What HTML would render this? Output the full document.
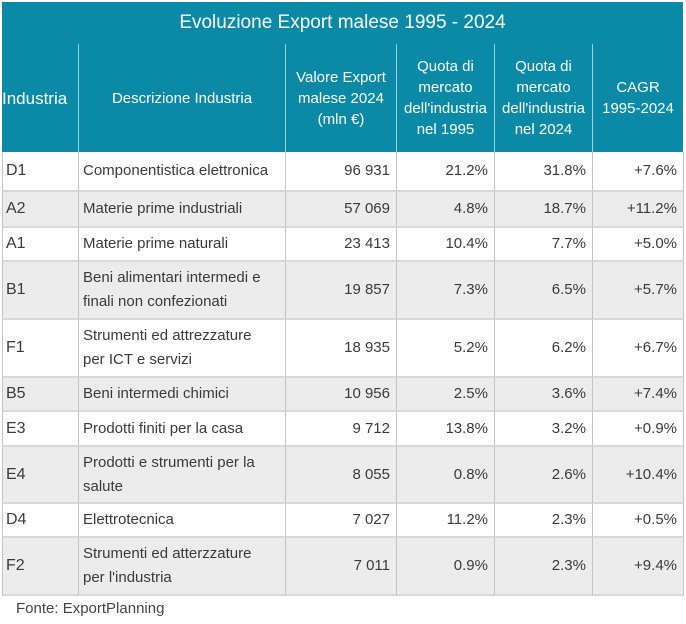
<!DOCTYPE html><html><head><style>
body{margin:0;width:686px;height:624px;background:#fff;font-family:"Liberation Sans",sans-serif;color:#3a3a3a;position:relative;overflow:hidden}
.t{position:absolute;left:2px;top:2px;width:681px;height:42px;background:#0a8aa6;color:#fff;font-size:19px;line-height:42px;text-align:center}
.h{position:absolute;top:44px;height:108px;background:#0a8aa6;color:#fff;font-size:15px;line-height:21px;display:flex;align-items:center;justify-content:center;text-align:center;box-sizing:border-box;border-left:1px solid #9fd0dc}
.c{position:absolute;box-sizing:border-box;font-size:15px;line-height:24px;display:flex;align-items:center;border-left:1px solid #c4c4c4;border-bottom:2px solid #d8d8d8;padding:0 4px}
.r{justify-content:flex-end;padding-right:6px}
.f{position:absolute;left:16px;top:600px;font-size:15px;color:#444}
</style></head><body>
<div class="t">Evoluzione Export malese 1995 - 2024</div>
<div class="h" style="left:2px;width:76px;font-size:17px;border-left:none;justify-content:flex-start">Industria</div>
<div class="h" style="left:78px;width:207px">Descrizione Industria</div>
<div class="h" style="left:285px;width:111px">Valore Export<br>malese 2024<br>(mln €)</div>
<div class="h" style="left:396px;width:98px">Quota di<br>mercato<br>dell'industria<br>nel 1995</div>
<div class="h" style="left:494px;width:98px">Quota di<br>mercato<br>dell'industria<br>nel 2024</div>
<div class="h" style="left:592px;width:91px">CAGR<br>1995-2024</div>
<div id="rows"></div>
<div class="f">Fonte: ExportPlanning</div>
<script>
var d=[["D1","Componentistica elettronica","96 931","21.2%","31.8%","+7.6%"],
["A2","Materie prime industriali","57 069","4.8%","18.7%","+11.2%"],
["A1","Materie prime naturali","23 413","10.4%","7.7%","+5.0%"],
["B1","Beni alimentari intermedi e<br>finali non confezionati","19 857","7.3%","6.5%","+5.7%"],
["F1","Strumenti ed attrezzature<br>per ICT e servizi","18 935","5.2%","6.2%","+6.7%"],
["B5","Beni intermedi chimici","10 956","2.5%","3.6%","+7.4%"],
["E3","Prodotti finiti per la casa","9 712","13.8%","3.2%","+0.9%"],
["E4","Prodotti e strumenti per la<br>salute","8 055","0.8%","2.6%","+10.4%"],
["D4","Elettrotecnica","7 027","11.2%","2.3%","+0.5%"],
["F2","Strumenti ed atterzzature<br>per l'industria","7 011","0.9%","2.3%","+9.4%"]];
var y=[152,192,228,262,320,378,412,447,504,538,596];
var xs=[2,78,285,396,494,592,683],h="";
for(var i=0;i<10;i++){var bg=i%2?"#ececec":"#fff";
for(var j=0;j<6;j++){h+='<div class="c'+(j>=2?' r':'')+'" style="left:'+xs[j]+'px;width:'+(xs[j+1]-xs[j]+(j==5?1:0))+'px;top:'+y[i]+'px;height:'+(y[i+1]-y[i])+'px;background:'+bg+';'+(j==5?'border-right:1px solid #c4c4c4;':'')+(j==0?'font-size:16px;padding-left:3px;':'')+'">'+d[i][j]+'</div>';}}
document.getElementById("rows").innerHTML=h;
</script>
</body></html>
